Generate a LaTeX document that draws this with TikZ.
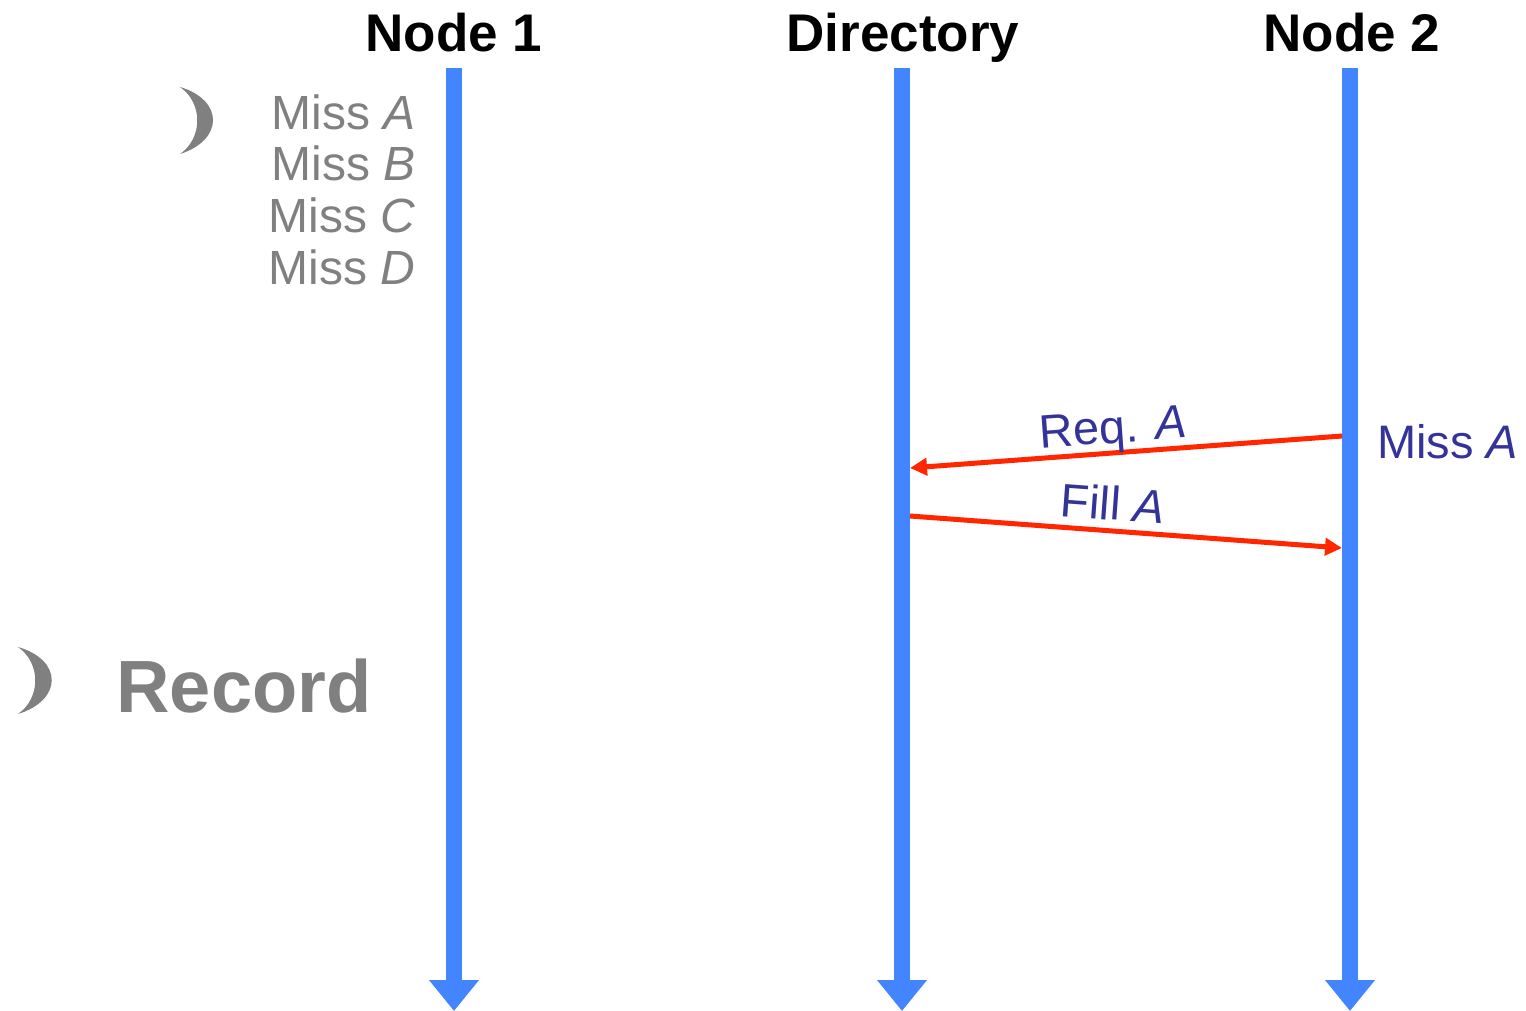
\documentclass[tikz,border=0pt]{standalone}
\usepackage{fontspec}
\setmainfont{Liberation Sans}
\usetikzlibrary{arrows.meta}
\definecolor{lifeblue}{HTML}{4285FF}
\definecolor{msgred}{HTML}{FF2600}
\definecolor{msgtext}{HTML}{333399}
\definecolor{softgray}{HTML}{808080}
\tikzset{
  head/.style={font=\fontsize{53}{58}\selectfont\bfseries, anchor=base},
  lifeline/.style={draw=lifeblue, line width=16pt, -{Triangle[length=31pt,width=48pt]}},
  msg/.style={draw=msgred, line width=5pt, -{Triangle[length=17pt,width=17pt]}},
  msglabel/.style={font=\fontsize{47}{52}\selectfont, text=msgtext, anchor=base, inner sep=0pt},
  misslabel/.style={font=\fontsize{48}{52}\selectfont, text=softgray, anchor=base east},
  crescent/.style={fill=softgray, draw=none}
}
\begin{document}
\begin{tikzpicture}[x=1pt, y=-1pt]
\useasboundingbox (0,0) rectangle (1526,1011);

% column headings
\node[head] (h1) at (454,52) {Node 1};
\node[head] (h2) at (903,52) {Directory};
\node[head] (h3) at (1352,52) {Node 2};

% lifelines
\coordinate (t1) at (454,68);  \coordinate (b1) at (454,1011);
\coordinate (t2) at (902,68);  \coordinate (b2) at (902,1011);
\coordinate (t3) at (1350,68); \coordinate (b3) at (1350,1011);
\draw[lifeline] (t1) -- (b1);
\draw[lifeline] (t2) -- (b2);
\draw[lifeline] (t3) -- (b3);

% misses recorded at node 1
\node[misslabel] (ma) at (419,130) {Miss \textit{A}};
\node[misslabel] (mb) at (419,181) {Miss \textit{B}};
\node[misslabel] (mc) at (419,233) {Miss \textit{C}};
\node[misslabel] (md) at (419,284) {Miss \textit{D}};
\fill[crescent] (180,87) .. controls (224,100) and (224,140) .. (180,154)
                         .. controls (203,138) and (203,103) .. (180,87);

% record marker
\node[font=\fontsize{74}{80}\selectfont\bfseries, text=softgray, anchor=base west] (rec) at (113,712) {Record};
\fill[crescent] (18,647) .. controls (63,660) and (63,700) .. (18,714)
                         .. controls (41,698) and (41,663) .. (18,647);

% messages between directory and node 2
\coordinate (reqs) at (1342,436);
\coordinate (reqe) at (910,468);
\coordinate (fills) at (910,516);
\coordinate (fille) at (1342,548);
\draw[msg] (reqs) -- (reqe);
\draw[msg] (fills) -- (fille);
\node[msglabel, rotate=4.2] (lreq) at (1114,443) {Req. \textit{A}};
\node[msglabel, rotate=-4.2] (lfill) at (1112,520) {Fill \textit{A}};
\node[msglabel, anchor=base west] (miss2) at (1377,458) {Miss \textit{A}};
\end{tikzpicture}
\end{document}
